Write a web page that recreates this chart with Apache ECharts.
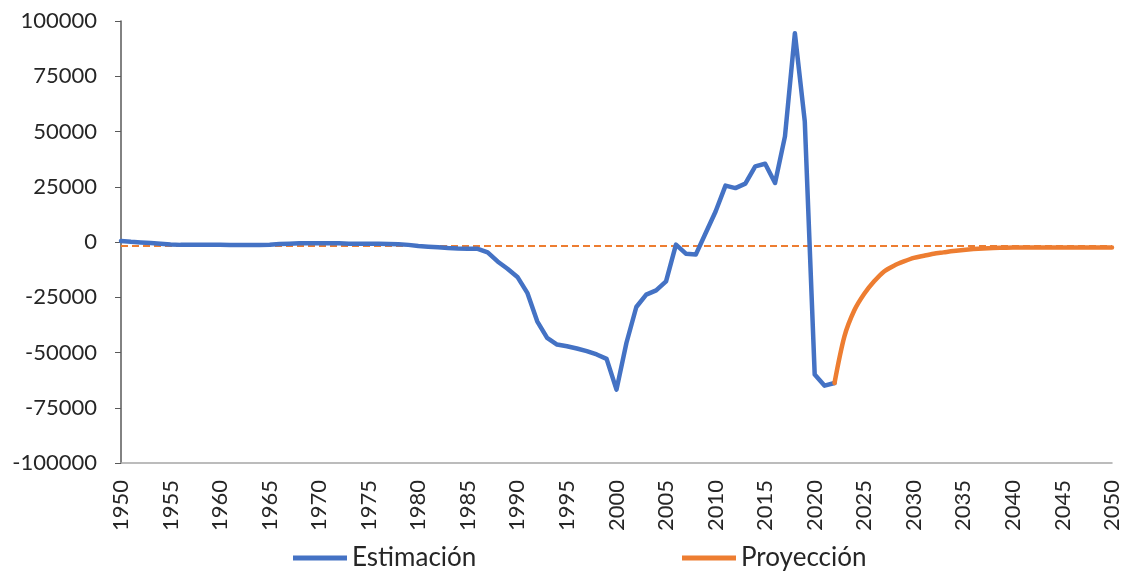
<!DOCTYPE html>
<html>
<head>
<meta charset="utf-8">
<script src="https://cdn.jsdelivr.net/npm/echarts@6/dist/echarts.min.js"></script>
<style>
  html, body { margin: 0; padding: 0; background: #fff; }
  #chart { width: 1128px; height: 572px; }
</style>
</head>
<body>
<div id="chart"></div>
<script>
// 年份 1950-2050
var years = [];
for (var y = 1950; y <= 2050; y++) { years.push(String(y)); }

// Estimación 1950-2022
var estimacion = [
  500, 100, -200, -450, -750, -1100, -1300, -1300, -1300, -1300,
  -1300, -1400, -1400, -1400, -1400, -1200, -900, -750, -600, -600,
  -600, -600, -600, -750, -750, -750, -750, -900, -1000, -1300,
  -1800, -2100, -2400, -2700, -2900, -3000, -3100, -4700, -8800, -12100,
  -15800, -23000, -35900, -43400, -46400, -47200, -48200, -49400, -50900, -52900,
  -66800, -45700, -29400, -23800, -21900, -17800, -1200, -5300, -5700, 4100,
  13800, 25500, 24400, 26400, 34200, 35400, 26700, 47800, 94500, 54500,
  -60000, -65000, -63800
];

// Proyección 2022-2050
var proyeccion = [
  -63800, -42700, -30900, -23400, -17800, -13300, -10700, -8800, -7200, -6200,
  -5300, -4700, -4100, -3600, -3200, -2900, -2700, -2600, -2500, -2500,
  -2500, -2500, -2500, -2500, -2500, -2500, -2500, -2500, -2500
];

// 虚线参考值
var referenceValue = -1500;

function padSeries(arr, startIdx) {
  var out = [];
  for (var i = 0; i < years.length; i++) {
    var k = i - startIdx;
    out.push(k >= 0 && k < arr.length ? arr[k] : null);
  }
  return out;
}

var FONT = 'Lato';
var chart = echarts.init(document.getElementById('chart'));
var option = {
  animation: false,
  grid: {
    left: 121,
    right: 16,
    top: 21,
    bottom: 109
  },
  legend: [{
    left: 288,
    top: 540,
    data: ['Estimación'],
    icon: 'rect',
    itemWidth: 54,
    itemHeight: 5,
    textStyle: { fontFamily: FONT, fontSize: 26, color: '#262626' }
  }, {
    left: 677,
    top: 540,
    data: ['Proyección'],
    icon: 'rect',
    itemWidth: 54,
    itemHeight: 5,
    textStyle: { fontFamily: FONT, fontSize: 26, color: '#262626' }
  }],
  xAxis: {
    type: 'category',
    data: years,
    boundaryGap: false,
    axisLine: { show: true, onZero: false, lineStyle: { color: '#a6a6a6', width: 1.5 } },
    axisTick: { show: false },
    axisLabel: {
      interval: 4,
      rotate: 90,
      margin: 17,
      fontFamily: FONT,
      fontSize: 22,
      color: '#262626'
    },
    splitLine: { show: false }
  },
  yAxis: {
    type: 'value',
    min: -100000,
    max: 100000,
    interval: 25000,
    axisLine: { show: true, lineStyle: { color: '#595959', width: 1.5 } },
    axisTick: { show: true, inside: false, length: 6, lineStyle: { color: '#595959' } },
    axisLabel: {
      margin: 24,
      fontFamily: FONT,
      fontSize: 22,
      color: '#262626',
      formatter: function (v) { return String(v); }
    },
    splitLine: { show: false }
  },
  series: [{
    name: 'Estimación',
    type: 'line',
    data: padSeries(estimacion, 0),
    showSymbol: false,
    symbol: 'none',
    connectNulls: false,
    itemStyle: { color: '#4472C4' },
    lineStyle: { color: '#4472C4', width: 4.5, cap: 'round', join: 'round' },
    z: 3
  }, {
    name: 'Proyección',
    type: 'line',
    data: padSeries(proyeccion, 72),
    showSymbol: false,
    symbol: 'none',
    smooth: 0.3,
    itemStyle: { color: '#ED7D31' },
    lineStyle: { color: '#ED7D31', width: 4.5, cap: 'round', join: 'round' },
    z: 4,
    markLine: {
      silent: true,
      symbol: ['none', 'none'],
      label: { show: false },
      lineStyle: { color: '#ED7D31', type: [7, 4], width: 2 },
      data: [{ yAxis: referenceValue }],
      z: 2
    }
  }]
};
chart.setOption(option);
</script>
</body>
</html>
